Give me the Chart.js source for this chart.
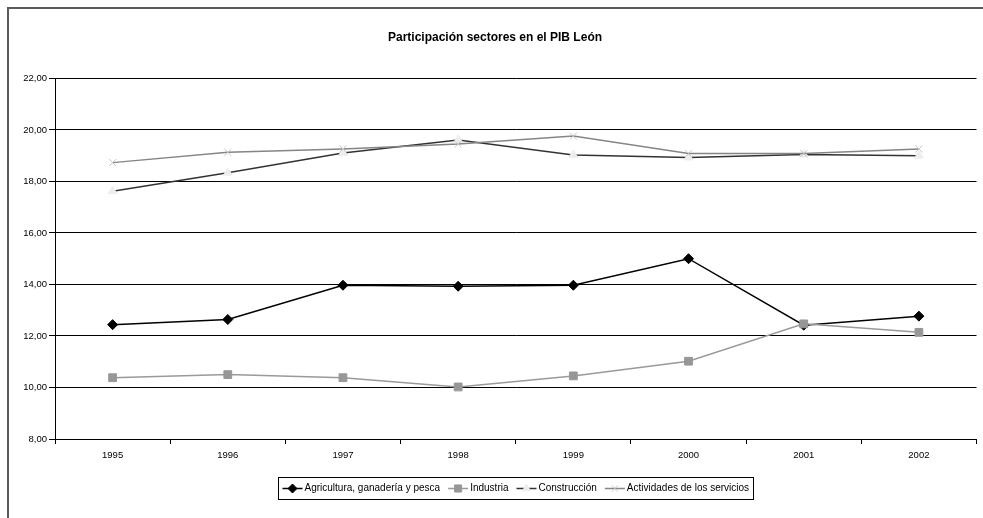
<!DOCTYPE html>
<html>
<head>
<meta charset="utf-8">
<title>Participación sectores en el PIB León</title>
<script src="https://cdn.jsdelivr.net/npm/chart.js@4.4.0/dist/chart.umd.min.js"></script>
<style>
    html, body { margin: 0; padding: 0; background: #fff; }
    #contenedor { width: 983px; height: 518px; position: relative; }
</style>
</head>
<body>
<div id="contenedor"><canvas id="grafico-pib" width="983" height="518"></canvas></div>
<script>
// datos
const anos = ['1995', '1996', '1997', '1998', '1999', '2000', '2001', '2002'];
const agricultura = [12.44, 12.64, 13.97, 13.93, 13.97, 15.00, 12.42, 12.77];
const industria = [10.38, 10.50, 10.38, 10.02, 10.45, 11.02, 12.47, 12.14];
const construccion = [17.62, 18.34, 19.10, 19.61, 19.03, 18.93, 19.05, 19.00];
const servicios = [18.73, 19.13, 19.26, 19.45, 19.76, 19.08, 19.08, 19.26];
const nombres = ['Agricultura, ganadería y pesca', 'Industria', 'Construcción', 'Actividades de los servicios'];
const ejeY = { min: 8, max: 22, paso: 2 };

const fuente = '"Liberation Sans", Arial, sans-serif';
Chart.defaults.font.family = fuente;
Chart.defaults.color = '#000';

// marco del área del gráfico (solo borde superior e izquierdo visibles)
const marco = {
    id: 'marco',
    beforeDraw(chart) {
        const ctx = chart.ctx;
        ctx.save();
        ctx.fillStyle = '#fff';
        ctx.fillRect(0, 0, chart.width, chart.height);
        ctx.strokeStyle = '#5a5a5a';
        ctx.lineWidth = 2;
        ctx.beginPath();
        ctx.moveTo(8, chart.height);
        ctx.lineTo(8, 8);
        ctx.lineTo(chart.width, 8);
        ctx.stroke();
        ctx.restore();
    }
};

// leyenda al estilo Excel: línea con marcador en el centro
const leyenda = {
    id: 'leyenda',
    afterDraw(chart) {
        const ctx = chart.ctx;
        const area = chart.chartArea;
        ctx.save();
        ctx.font = '10px ' + fuente;
        const anchoLinea = 20, hueco = 2, sep = 8, margen = 4;
        const anchos = chart.data.datasets.map(d => ctx.measureText(d.label).width);
        let total = margen * 2;
        anchos.forEach((w, i) => {
            total += anchoLinea + hueco + w + (i < anchos.length - 1 ? sep : 0);
        });
        const alto = 22;
        const x0 = Math.round((area.left + area.right) / 2 - total / 2) + 0.5;
        const y0 = 477.5;
        ctx.strokeStyle = '#000';
        ctx.lineWidth = 1;
        ctx.strokeRect(x0, y0, Math.round(total), alto);

        let x = x0 + margen;
        const yc = y0 + alto / 2;
        chart.data.datasets.forEach((d, i) => {
            ctx.strokeStyle = d.borderColor;
            ctx.lineWidth = d.borderWidth;
            ctx.beginPath();
            ctx.moveTo(x, yc);
            ctx.lineTo(x + anchoLinea, yc);
            ctx.stroke();
            const opciones = {
                pointStyle: d.pointStyle,
                radius: d.pointRadius - 0.5,
                rotation: 0,
                borderWidth: d.pointBorderWidth
            };
            ctx.fillStyle = d.pointBackgroundColor;
            ctx.strokeStyle = d.pointBorderColor;
            ctx.lineWidth = d.pointBorderWidth;
            if (Chart.helpers && Chart.helpers.drawPoint) {
                Chart.helpers.drawPoint(ctx, opciones, x + anchoLinea / 2, yc);
            }
            ctx.fillStyle = '#000';
            ctx.textBaseline = 'middle';
            ctx.textAlign = 'left';
            ctx.fillText(d.label, x + anchoLinea + hueco, yc);
            x += anchoLinea + hueco + anchos[i] + sep;
        });
        ctx.restore();
    }
};

const ctx = document.getElementById('grafico-pib').getContext('2d');

const chart = new Chart(ctx, {
    type: 'line',
    data: {
        labels: anos,
        datasets: [
            {
                label: nombres[0],
                data: agricultura,
                borderColor: '#000',
                borderWidth: 1.5,
                pointStyle: 'rectRot',
                pointRadius: 5,
                pointBackgroundColor: '#000',
                pointBorderColor: '#000',
                pointBorderWidth: 1,
                order: 4
            },
            {
                label: nombres[1],
                data: industria,
                borderColor: '#9a9a9a',
                borderWidth: 1.5,
                pointStyle: 'rect',
                pointRadius: 5.5,
                pointBackgroundColor: '#979797',
                pointBorderColor: '#979797',
                pointBorderWidth: 1,
                order: 3
            },
            {
                label: nombres[2],
                data: construccion,
                borderColor: '#333',
                borderWidth: 1.5,
                pointStyle: 'triangle',
                pointRadius: 5,
                pointBackgroundColor: '#ededed',
                pointBorderColor: '#ededed',
                pointBorderWidth: 1,
                order: 2
            },
            {
                label: nombres[3],
                data: servicios,
                borderColor: '#858585',
                borderWidth: 1.5,
                pointStyle: 'crossRot',
                pointRadius: 5,
                pointBackgroundColor: '#c8c8c8',
                pointBorderColor: '#c8c8c8',
                pointBorderWidth: 1,
                order: 1
            }
        ]
    },
    options: {
        responsive: false,
        animation: false,
        devicePixelRatio: 1,
        layout: {
            padding: { left: 10, right: 3, top: 0, bottom: 49 }
        },
        elements: {
            line: { tension: 0, fill: false }
        },
        scales: {
            x: {
                offset: true,
                grid: {
                    offset: true,
                    drawOnChartArea: false,
                    tickLength: 5,
                    color: '#000'
                },
                border: { color: '#000', width: 1 },
                ticks: {
                    color: '#000',
                    font: { size: 9.5 },
                    padding: 6,
                    maxRotation: 0
                },
                afterFit: s => {
                    s.height = 30;
                    s.paddingLeft = 0;
                    s.paddingRight = 0;
                }
            },
            y: {
                min: ejeY.min,
                max: ejeY.max,
                ticks: {
                    stepSize: ejeY.paso,
                    color: '#000',
                    font: { size: 9.5 },
                    padding: 2,
                    callback: v => v.toFixed(2).replace('.', ',')
                },
                grid: {
                    color: '#000',
                    lineWidth: 1,
                    tickLength: 6
                },
                border: { color: '#000', width: 1 },
                afterFit: s => { s.width = 45; }
            }
        },
        plugins: {
            legend: { display: false },
            tooltip: { enabled: false },
            title: {
                display: true,
                text: 'Participación sectores en el PIB León',
                color: '#000',
                font: { size: 12, weight: 'bold' },
                padding: { top: 30, bottom: 34 }
            }
        }
    },
    plugins: [marco, leyenda]
});
</script>
</body>
</html>
